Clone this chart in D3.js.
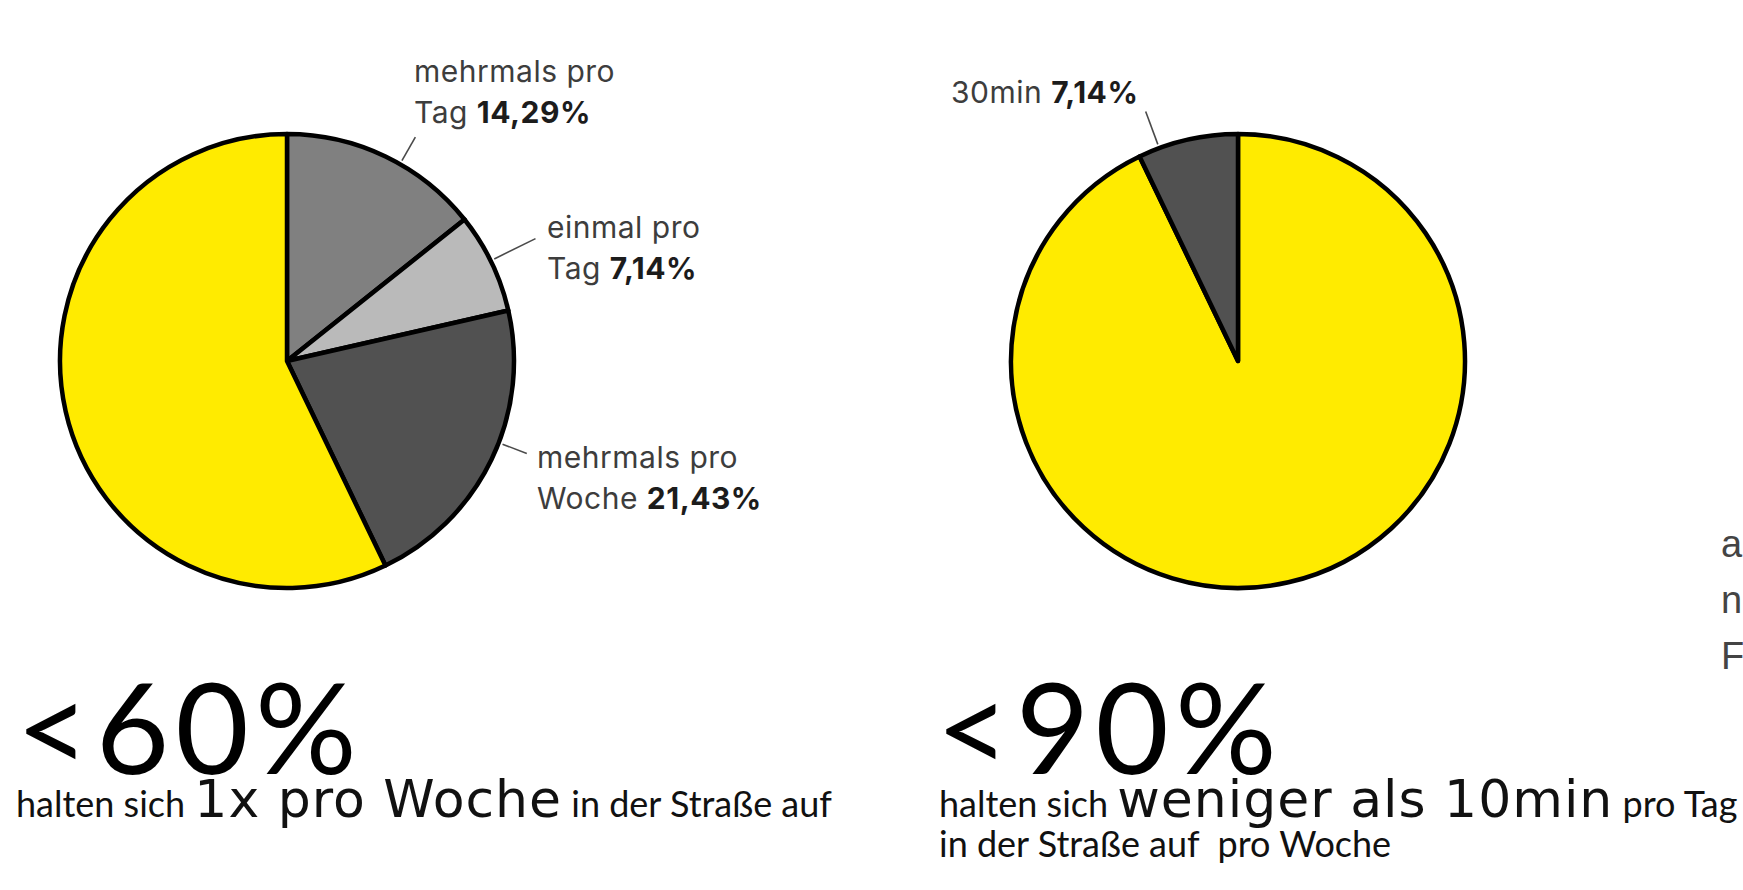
<!DOCTYPE html>
<html>
<head>
<meta charset="utf-8">
<script src="https://cdn.jsdelivr.net/npm/d3@7"></script>
<style>
  body { margin: 0; background: #fff; }
  svg { display: block; }
  .label { font-family: Inter, "Noto Sans", sans-serif; font-size: 30px; fill: #3d3d3d; letter-spacing: 0.5px; }
  .label .num { font-weight: 700; fill: #1c1c1c; }
  .leader { stroke: #4a4a4a; stroke-width: 1.6px; }
  .headline { font-family: Lato, sans-serif; font-size: 127px; font-weight: 400; fill: #000; letter-spacing: 6px; }
  .sub { font-family: Lato, sans-serif; font-weight: 400; fill: #111; white-space: pre; }
  .sub .big { font-family: "DejaVu Sans", sans-serif; font-weight: 400; letter-spacing: 1px; }
  .cut { font-family: "Liberation Sans", sans-serif; font-size: 38px; fill: #444; }
</style>
</head>
<body>
<svg id="chart" width="1743" height="890"></svg>
<script>
// data
const leftCategories = ["mehrmals pro Tag", "einmal pro Tag", "mehrmals pro Woche", "1x pro Woche"];
const leftValues = [14.29, 7.14, 21.43, 57.14];
const leftLabelLines = [["mehrmals pro", "Tag"], ["einmal pro", "Tag"], ["mehrmals pro", "Woche"], null];

const rightCategories = ["weniger als 10min", "30min"];
const rightValues = [92.86, 7.14];
const rightLabelLines = [null, ["30min"]];

const headlines = ["<60%", "<90%"];
const leftSubtitle = [["halten sich ", "small"], ["1x pro Woche", "big"], [" in der Straße auf", "small"]];
const rightSubtitle1 = [["halten sich ", "small"], ["weniger als 10min", "big"], [" pro Tag", "small"]];
const rightSubtitle2 = [["in der Straße auf  pro Woche", "small"]];
const cutLetters = ["a", "n", "F"];

class PieSheet {
  /* ===================================
   *  CONSTRUCTOR
   * =================================== */
  constructor() {
    this.svg = d3.select("#chart");
    this.locale = d3.formatLocale({ decimal: ",", thousands: ".", grouping: [3], currency: ["", "€"] });
    this.fmt = this.locale.format(".2f");
    this.draw();
  }

  /* ===================================
   *  METHODS
   * =================================== */
  draw() {
    this.DrawPie({
      cx: 287, cy: 361, r: 227,
      categories: leftCategories,
      values: leftValues,
      lines: leftLabelLines,
      colors: ["#808080", "#bababa", "#515151", "#ffeb00"],
      leaderAt: [0.58, 0.48, 0.44, 0],
      leaderLen: [27, 46, 26, 0],
      labelPos: [[414, 82], [547, 238], [537, 468], null]
    });

    this.DrawPie({
      cx: 1238, cy: 361, r: 227,
      categories: rightCategories,
      values: rightValues,
      lines: rightLabelLines,
      colors: ["#ffeb00", "#515151"],
      leaderAt: [0, 0.21],
      leaderLen: [0, 35],
      labelPos: [null, [951, 103]]
    });

    this.DrawHeadline(headlines[0], 16, 774);
    this.DrawHeadline(headlines[1], 936, 774);

    this.DrawSubtitle(leftSubtitle, 16, 817);
    this.DrawSubtitle(rightSubtitle1, 939, 817);
    this.DrawSubtitle(rightSubtitle2, 939, 857);

    // third panel, cut off by the right edge
    this.svg.selectAll("text.cut")
      .data(cutLetters)
      .join("text")
      .attr("class", "cut")
      .attr("x", 1721)
      .attr("y", (d, i) => 557 + i * 56)
      .text(d => d);
  }

  DrawPie(cfg) {
    const color = d3.scaleOrdinal().domain(cfg.categories).range(cfg.colors);
    const pie = d3.pie().sort(null).value(d => d.value);
    const arcs = pie(cfg.categories.map((c, i) => ({ category: c, value: cfg.values[i], index: i })));
    const arc = d3.arc().innerRadius(0).outerRadius(cfg.r);

    const g = this.svg.append("g").attr("transform", `translate(${cfg.cx},${cfg.cy})`);

    g.selectAll("path")
      .data(arcs)
      .join("path")
      .attr("d", arc)
      .attr("fill", d => color(d.data.category))
      .attr("stroke", "#000")
      .attr("stroke-width", 4.5)
      .attr("stroke-linejoin", "round");

    const labelled = arcs.filter(d => cfg.lines[d.data.index]);

    labelled.forEach(d => {
      const i = d.data.index;
      const a = d.startAngle + (d.endAngle - d.startAngle) * cfg.leaderAt[i];
      const r0 = cfg.r + 4, r1 = cfg.r + 4 + cfg.leaderLen[i];
      g.append("line")
        .attr("class", "leader")
        .attr("x1", Math.sin(a) * r0).attr("y1", -Math.cos(a) * r0)
        .attr("x2", Math.sin(a) * r1).attr("y2", -Math.cos(a) * r1);

      const lines = cfg.lines[i];
      const pos = cfg.labelPos[i];
      const t = this.svg.append("text")
        .attr("class", "label")
        .attr("x", pos[0])
        .attr("y", pos[1]);

      lines.forEach((ln, k) => {
        const last = k === lines.length - 1;
        t.append("tspan")
          .attr("x", pos[0])
          .attr("dy", k === 0 ? 0 : 41)
          .text(last ? ln + " " : ln);
        if (last) {
          t.append("tspan").attr("class", "num").text(this.fmt(d.data.value) + "%");
        }
      });
    });
  }

  DrawHeadline(txt, x, y) {
    this.svg.append("text")
      .attr("class", "headline")
      .attr("x", x)
      .attr("y", y)
      .text(txt);
  }

  DrawSubtitle(parts, x, y) {
    const t = this.svg.append("text").attr("class", "sub").attr("x", x).attr("y", y);
    parts.forEach(p => {
      t.append("tspan")
        .attr("class", p[1])
        .attr("font-size", p[1] === "big" ? 52 : 36)
        .text(p[0]);
    });
  }
}

new PieSheet();
</script>
</body>
</html>
